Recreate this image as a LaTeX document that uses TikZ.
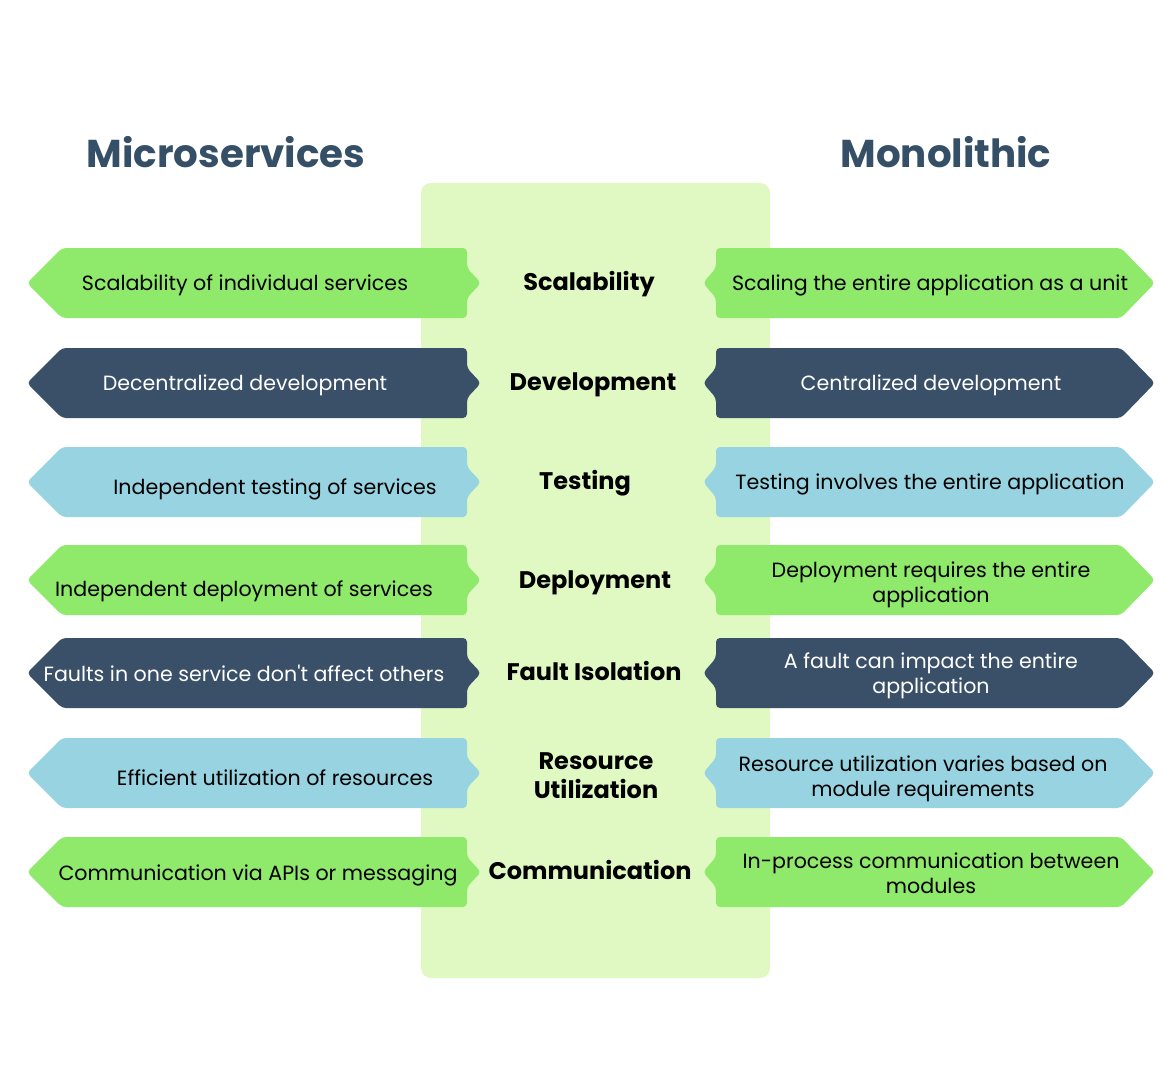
\documentclass[tikz,border=0pt]{standalone}
\usepackage{fontspec}
\setmainfont{Poppins}[Ligatures=TeXOff]
\definecolor{cgreen}{HTML}{8FE96B}
\definecolor{cnavy}{HTML}{3A5068}
\definecolor{cblue}{HTML}{97D3E0}
\definecolor{cpanel}{HTML}{E0F9C2}
\definecolor{ctitle}{HTML}{354F67}
\newcommand\MSleft[2]{\fill[#2,rounded corners=4pt] (27,#1) -- (62,#1-35) -- (467,#1-35) -- (467,#1-15) -- (481,#1) -- (467,#1+15) -- (467,#1+35) -- (62,#1+35) -- cycle;}
\newcommand\MSright[2]{\fill[#2,rounded corners=4pt] (716,#1-35) -- (1121,#1-35) -- (1155,#1) -- (1121,#1+35) -- (716,#1+35) -- (716,#1+15) -- (703,#1) -- (716,#1-15) -- cycle;}
\begin{document}
\begin{tikzpicture}[x=1pt,y=-1pt,
  boxtxt/.style={inner sep=0pt,align=center,font=\fontsize{20.6}{25}\selectfont},
  darktxt/.style={boxtxt,text=black},
  lighttxt/.style={boxtxt,text=white},
  midtxt/.style={inner sep=0pt,align=center,text=black,font=\fontsize{24}{29}\selectfont\bfseries},
  titletxt/.style={inner sep=0pt,anchor=base,text=ctitle,font=\fontsize{38.8}{44}\selectfont\bfseries}]
\useasboundingbox (0,0) rectangle (1170,1080);
\fill[white] (0,0) rectangle (1170,1080);
\fill[cpanel,rounded corners=10pt] (421,183) rectangle (770,978);
% titles
\node[titletxt] (tl) at (226,167) {Microservices};
\node[titletxt] (tr) at (946,167) {Monolithic};
% row shapes
\MSleft{283}{cgreen}\MSright{283}{cgreen}
\MSleft{383}{cnavy}\MSright{383}{cnavy}
\MSleft{482}{cblue}\MSright{482}{cblue}
\MSleft{580}{cgreen}\MSright{580}{cgreen}
\MSleft{673}{cnavy}\MSright{673}{cnavy}
\MSleft{773}{cblue}\MSright{773}{cblue}
\MSleft{872}{cgreen}\MSright{872}{cgreen}
% left texts
\node[darktxt,anchor=base] (l1) at (245,290) {Scalability of individual services};
\node[lighttxt,anchor=base] (l2) at (245,390) {Decentralized development};
\node[darktxt,anchor=base] (l3) at (275,494) {Independent testing of services};
\node[darktxt,anchor=base] (l4) at (244,596) {Independent deployment of services};
\node[lighttxt,anchor=base] (l5) at (244,681) {Faults in one service don't affect others};
\node[darktxt,anchor=base] (l6) at (275,785) {Efficient utilization of resources};
\node[darktxt,anchor=base] (l7) at (258,880) {Communication via APIs or messaging};
% middle labels
\node[midtxt,anchor=base] (m1) at (589,290) {Scalability};
\node[midtxt,anchor=base] (m2) at (593,390) {Development};
\node[midtxt,anchor=base] (m3) at (585,489) {Testing};
\node[midtxt,anchor=base] (m4) at (595,588) {Deployment};
\node[midtxt,anchor=base] (m5) at (594,680) {Fault Isolation};
\node[midtxt] (m6) at (596,776) {Resource\\Utilization};
\node[midtxt,anchor=base] (m7) at (590,879) {Communication};
% right texts
\node[darktxt,anchor=base] (r1) at (930,290) {Scaling the entire application as a unit};
\node[lighttxt,anchor=base] (r2) at (931,390) {Centralized development};
\node[darktxt,anchor=base] (r3) at (930,489) {Testing involves the entire application};
\node[darktxt] (r4) at (931,585) {Deployment requires the entire\\application};
\node[lighttxt] (r5) at (931,676) {A fault can impact the entire\\application};
\node[darktxt] (r6) at (923,779) {Resource utilization varies based on\\module requirements};
\node[darktxt] (r7) at (931,873) {In-process communication between\\modules};
\end{tikzpicture}
\end{document}
